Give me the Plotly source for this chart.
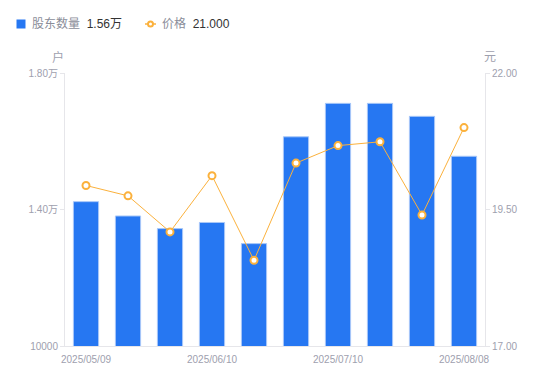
import plotly.graph_objects as go

dates = ["2025/05/09", "2025/05/20", "2025/05/30", "2025/06/10", "2025/06/20",
         "2025/06/30", "2025/07/10", "2025/07/18", "2025/07/31", "2025/08/08"]
holders = [14230, 13810, 13440, 13620, 13000, 16130, 17110, 17110, 16730, 15560]
price = [19.94, 19.75, 19.09, 20.12, 18.57, 20.35, 20.67, 20.74, 19.40, 21.00]
xtick_labels = ["2025/05/09", "2025/06/10", "2025/07/10", "2025/08/08"]
left_ticks = [10000, 14000, 18000]
left_tick_text = ["10000", "1.40万", "1.80万"]
right_ticks = [17, 19.5, 22]
right_tick_text = ["17.00", "19.50", "22.00"]

BLUE = "#2677F2"
ORANGE = "#FBB13C"
GRAY = "#9EA0AE"
AXIS = "#E6E6EA"
FONT = "Liberation Sans, Noto Sans CJK SC, sans-serif"

W, H = 550, 381
L, R, T, B = 65, 65, 73, 35
PW, PH = W - L - R, H - T - B


def px(x):
    return (x - L) / PW


def py(y):
    return 1 + (T - y) / PH


fig = go.Figure()
fig.add_trace(go.Bar(x=dates, y=holders, name="股东数量",
                     marker=dict(color=BLUE, line=dict(color="#A9C8F8", width=1)),
                     width=0.6, yaxis="y"))
fig.add_trace(go.Scatter(x=dates, y=price, name="价格", mode="lines+markers", yaxis="y2",
                         line=dict(color=ORANGE, width=1),
                         marker=dict(symbol="circle", size=7, color="white",
                                     line=dict(color=ORANGE, width=2))))

TICKFONT = dict(size=10, color=GRAY)

fig.update_layout(
    template="none",
    width=W, height=H,
    margin=dict(l=L, r=R, t=T, b=B, autoexpand=False),
    paper_bgcolor="white", plot_bgcolor="white",
    showlegend=False,
    font=dict(family=FONT, size=10, color=GRAY),
    xaxis=dict(type="category", tickvals=xtick_labels, ticktext=xtick_labels, automargin=False,
               range=[-0.5, len(dates) - 0.5], ticklabelstandoff=4,
               showline=True, linecolor=AXIS, linewidth=1, ticks="", showgrid=False, zeroline=False,
               tickfont=TICKFONT),
    yaxis=dict(range=[10000, 18000], tickvals=left_ticks, ticktext=left_tick_text, automargin=False,
               showline=True, linecolor=AXIS, linewidth=1, ticks="outside", ticklen=4, tickcolor=AXIS,
               showgrid=False, zeroline=False, tickfont=TICKFONT),
    yaxis2=dict(range=[17, 22], tickvals=right_ticks, ticktext=right_tick_text, overlaying="y", side="right",
                automargin=False,
                showline=True, linecolor=AXIS, linewidth=1, ticks="outside", ticklen=4, tickcolor=AXIS,
                showgrid=False, zeroline=False, tickfont=TICKFONT),
)

# axis unit titles
fig.add_annotation(text="户", xref="paper", yref="paper", x=px(58), y=py(57),
                   showarrow=False, font=dict(size=12, color=GRAY), xanchor="center", yanchor="middle")
fig.add_annotation(text="元", xref="paper", yref="paper", x=px(490), y=py(57),
                   showarrow=False, font=dict(size=12, color=GRAY), xanchor="center", yanchor="middle")

# custom legend
last_h = f"{holders[-1] / 10000:.2f}万"
last_p = f"{price[-1]:.3f}"
fig.add_shape(type="rect", xref="paper", yref="paper", x0=px(16.5), x1=px(25.5), y0=py(28.5), y1=py(19.5),
              fillcolor=BLUE, line=dict(width=0), layer="above")
fig.add_annotation(text=f"股东数量 <span style='color:#333'> {last_h}</span>", xref="paper", yref="paper",
                   x=px(30), y=py(24), xanchor="left", yanchor="middle", showarrow=False,
                   font=dict(size=12, color="#8A8D99"))
fig.add_shape(type="line", xref="paper", yref="paper", x0=px(145), x1=px(156),
              y0=py(24), y1=py(24), line=dict(color=ORANGE, width=1.5))
fig.add_shape(type="circle", xref="paper", yref="paper", x0=px(148), x1=px(153),
              y0=py(26.5), y1=py(21.5), fillcolor="white", line=dict(color=ORANGE, width=2))
fig.add_annotation(text=f"价格 <span style='color:#333'> {last_p}</span>", xref="paper", yref="paper",
                   x=px(160), y=py(24), xanchor="left", yanchor="middle", showarrow=False,
                   font=dict(size=12, color="#8A8D99"))

fig.write_html("out.html", config={"displayModeBar": False},
               post_script="document.body.style.margin='0';document.body.style.overflow='hidden';")
